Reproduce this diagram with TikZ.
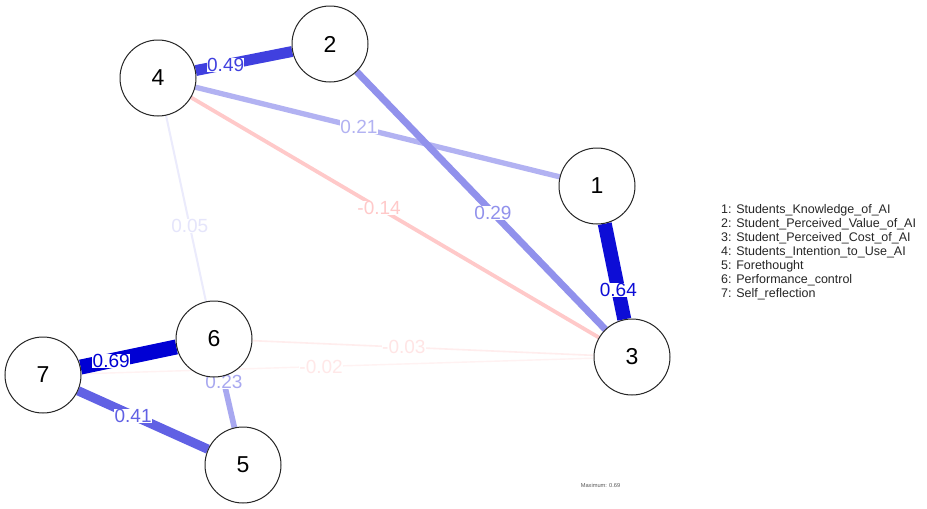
\documentclass[tikz,border=0pt]{standalone}
\usepackage{fontspec}
\setmainfont{Liberation Sans}
\definecolor{qblue}{RGB}{0,0,212}
\definecolor{qred}{RGB}{255,0,0}
\pgfdeclarelayer{bg}
\pgfdeclarelayer{edges}
\pgfdeclarelayer{labels}
\pgfsetlayers{bg,edges,labels,main}
\tikzset{
  vert/.style={circle, draw=black!85, line width=1pt, fill=white, minimum size=76pt, inner sep=0pt, font=\fontsize{23}{23}\selectfont},
  elab/.style={fill=white, inner sep=0.3pt, font=\fontsize{19}{19}\selectfont},
  legtxt/.style={anchor=base west, inner sep=0pt, font=\fontsize{12.5}{14}\selectfont, text=black!85},
  edg/.style={line width=#1pt}
}
\begin{document}
\begin{tikzpicture}[x=1pt,y=-1pt]
\begin{pgfonlayer}{bg}
\useasboundingbox[fill=white] (0,0) rectangle (927,509);
\end{pgfonlayer}
% nodes
\node[vert] (n1) at (597,186) {1};
\node[vert] (n2) at (330,44) {2};
\node[vert] (n3) at (632,357) {3};
\node[vert] (n4) at (158,78) {4};
\node[vert] (n5) at (243,465) {5};
\node[vert] (n6) at (214,339) {6};
\node[vert] (n7) at (43,375) {7};
% edges (weakest first)
\begin{pgfonlayer}{edges}
\draw[edg=1.4, qred!5!white] (n7) -- coordinate[pos=0.468] (c73) (n3);
\draw[edg=1.6, qred!7!white] (n6) -- coordinate[pos=0.444] (c63) (n3);
\draw[edg=2.0, qblue!8!white] (n4) -- coordinate[pos=0.594] (c46) (n6);
\draw[edg=3.8, qred!21!white] (n4) -- coordinate[pos=0.461] (c43) (n3);
\draw[edg=5.3, qblue!30!white] (n4) -- coordinate[pos=0.449] (c41) (n1);
\draw[edg=5.7, qblue!34!white] (n6) -- coordinate[pos=0.114] (c65) (n5);
\draw[edg=6.9, qblue!43!white] (n2) -- coordinate[pos=0.548] (c23) (n3);
\draw[edg=9.3, qblue!62!white] (n7) -- coordinate[pos=0.424] (c75) (n5);
\draw[edg=10.9, qblue!75!white] (n4) -- coordinate[pos=0.31] (c42) (n2);
\draw[edg=14.0, qblue!95!white] (n1) -- coordinate[pos=0.696] (c13) (n3);
\draw[edg=15.0, qblue] (n7) -- coordinate[pos=0.319] (c76) (n6);
\end{pgfonlayer}
% edge labels
\begin{pgfonlayer}{labels}
\node[elab, text=qred!9!white] (l73) at (c73) {-0.02};
\node[elab, text=qred!10!white] (l63) at (c63) {-0.03};
\node[elab, text=qblue!10!white] (l46) at (c46) {0.05};
\node[elab, text=qred!21!white] (l43) at (c43) {-0.14};
\node[elab, text=qblue!30!white] (l41) at (c41) {0.21};
\node[elab, text=qblue!34!white] (l65) at (c65) {0.23};
\node[elab, text=qblue!43!white] (l23) at (c23) {0.29};
\node[elab, text=qblue!62!white] (l75) at (c75) {0.41};
\node[elab, text=qblue!75!white] (l42) at (c42) {0.49};
\node[elab, text=qblue!95!white] (l13) at (c13) {0.64};
\node[elab, text=qblue] (l76) at (c76) {0.69};
\end{pgfonlayer}
% legend
\node[legtxt] (leg1) at (721,213.5) {1: Students\_Knowledge\_of\_AI};
\node[legtxt] (leg2) at (721,227.5) {2: Student\_Perceived\_Value\_of\_AI};
\node[legtxt] (leg3) at (721,241.5) {3: Student\_Perceived\_Cost\_of\_AI};
\node[legtxt] (leg4) at (721,255.5) {4: Students\_Intention\_to\_Use\_AI};
\node[legtxt] (leg5) at (721,269.5) {5: Forethought};
\node[legtxt] (leg6) at (721,283.5) {6: Performance\_control};
\node[legtxt] (leg7) at (721,297.5) {7: Self\_reflection};
\node[inner sep=0pt, font=\fontsize{5.7}{6}\selectfont, text=black!65] (maxi) at (600.5,485) {Maximum: 0.69};
\end{tikzpicture}
\end{document}
